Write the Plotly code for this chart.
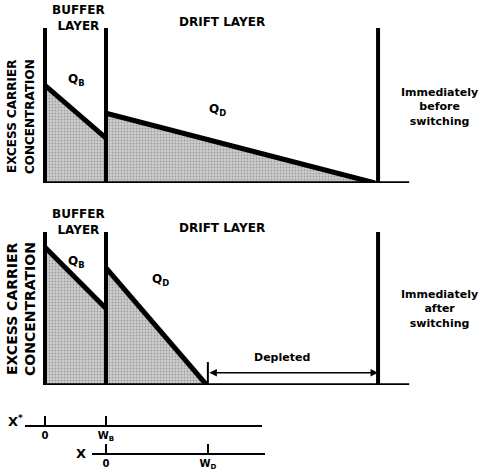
import plotly.graph_objects as go

# ---------------- data (x* in units of buffer width W_B) ----------------
W_B = 1.0
wall_pos = [0.0, 1.0, 5.46]          # left wall, buffer/drift boundary, right wall (x*)
wall_top = 1.0
depletion_edge = 2.67                # x* where drift carriers vanish after switching
W_D = depletion_edge - W_B

# before switching
before_buffer_x = [0.0, 1.0]
before_buffer_y = [0.63, 0.29]
before_drift_x = [1.0, 5.41]
before_drift_y = [0.45, 0.0]
# after switching
after_buffer_x = [0.0, 1.0]
after_buffer_y = [0.90, 0.50]
after_drift_x = [1.0, 2.65]
after_drift_y = [0.765, 0.0]

baseline_end = 5.97

xstar_ticks = [0.0, W_B]
xstar_labels = ["0", "W<sub>B</sub>"]
x_ticks = [0.0, W_D]
x_labels = ["0", "W<sub>D</sub>"]

# ---------------- layout helpers ----------------
W, H = 479, 475
PXU = 61.0      # pixels per unit
X0PX = 45.0     # pixel of x*=0

def px(x):
    return x / W

def py(y):
    return 1 - y / H

FONT = "DejaVu Sans"
BLACK = "black"

fig = go.Figure()

def add_panel(yax, bx, by, dx, dy):
    fillpat = dict(shape=".", fgcolor="#6e6e6e", bgcolor="#cdcdcd", size=3, solidity=0.3)
    for xs, ys in ((bx, by), (dx, dy)):
        fig.add_trace(go.Scatter(x=xs, y=ys, mode="lines", fill="tozeroy",
                                 fillcolor="#c4c4c4", fillpattern=fillpat,
                                 line=dict(color=BLACK, width=5), yaxis=yax,
                                 hoverinfo="skip", showlegend=False))
    # walls
    for xp in wall_pos:
        fig.add_trace(go.Scatter(x=[xp, xp], y=[0, wall_top], mode="lines",
                                 line=dict(color=BLACK, width=4), yaxis=yax,
                                 hoverinfo="skip", showlegend=False))
    # baseline
    fig.add_trace(go.Scatter(x=[-0.03, baseline_end], y=[0, 0], mode="lines",
                             line=dict(color=BLACK, width=3.5), yaxis=yax,
                             hoverinfo="skip", showlegend=False))

add_panel("y", before_buffer_x, before_buffer_y, before_drift_x, before_drift_y)
add_panel("y2", after_buffer_x, after_buffer_y, after_drift_x, after_drift_y)

# depletion edge tick
fig.add_trace(go.Scatter(x=[depletion_edge, depletion_edge], y=[0, 0.15], mode="lines",
                         line=dict(color=BLACK, width=2), yaxis="y2",
                         hoverinfo="skip", showlegend=False))

# scale axis carriers (invisible)
fig.add_trace(go.Scatter(x=xstar_ticks, y=[0, 0], xaxis="x2", yaxis="y3", mode="markers",
                         marker=dict(opacity=0), hoverinfo="skip", showlegend=False))
fig.add_trace(go.Scatter(x=x_ticks, y=[0, 0], xaxis="x3", yaxis="y4", mode="markers",
                         marker=dict(opacity=0), hoverinfo="skip", showlegend=False))

hidden = dict(visible=False, showgrid=False, zeroline=False, fixedrange=True)

xrange_main = [-X0PX / PXU, (W - X0PX) / PXU]

top_dom = [py(183), py(28)]
bot_dom = [py(385), py(232)]

l1, r1 = 25, 262
l2, r2 = 92, 265
fig.update_layout(
    width=W, height=H, margin=dict(l=0, r=0, t=0, b=0),
    paper_bgcolor="white", plot_bgcolor="white",
    xaxis=dict(domain=[0, 1], range=xrange_main, **hidden),
    yaxis=dict(domain=top_dom, range=[0, 1], **hidden),
    yaxis2=dict(domain=bot_dom, range=[0, 1], anchor="x", **hidden),
    yaxis3=dict(domain=[py(425), py(415)], range=[0, 1], anchor="x2", **hidden),
    yaxis4=dict(domain=[py(453), py(443)], range=[0, 1], anchor="x3", **hidden),
    xaxis2=dict(domain=[px(l1), px(r1)], anchor="y3",
                range=[(l1 - X0PX) / PXU, (r1 - X0PX) / PXU],
                showline=True, linecolor=BLACK, linewidth=2,
                ticks="inside", ticklen=9, tickwidth=2, tickcolor=BLACK,
                tickvals=xstar_ticks, ticktext=["<b>%s</b>" % t for t in xstar_labels],
                tickfont=dict(family=FONT, size=10, color=BLACK),
                showgrid=False, zeroline=False, fixedrange=True),
    xaxis3=dict(domain=[px(l2), px(r2)], anchor="y4",
                range=[(l2 - 106) / PXU, (r2 - 106) / PXU],
                showline=True, linecolor=BLACK, linewidth=2,
                ticks="inside", ticklen=9, tickwidth=2, tickcolor=BLACK,
                tickvals=x_ticks, ticktext=["<b>%s</b>" % t for t in x_labels],
                tickfont=dict(family=FONT, size=10, color=BLACK),
                showgrid=False, zeroline=False, fixedrange=True),
)

def ann(text, x, y, size=12, angle=0, **kw):
    fig.add_annotation(text="<b>%s</b>" % text, x=px(x), y=py(y), xref="paper", yref="paper",
                       xanchor="center", yanchor="middle",
                       showarrow=False, textangle=angle,
                       font=dict(family=FONT, size=size, color=BLACK), **kw)

# top panel texts
ann("BUFFER<br>LAYER", 78, 18, size=12)
ann("DRIFT LAYER", 222, 22, size=12)
ann("Q<sub>B</sub>", 76, 80, size=12)
ann("Q<sub>D</sub>", 217, 110, size=12)
ann("Immediately<br>before<br>switching", 439, 107, size=11)
ann("EXCESS CARRIER", 12, 117, size=12, angle=-90)
ann("CONCENTRATION", 30, 117, size=12, angle=-90)

# bottom panel texts
ann("BUFFER<br>LAYER", 78, 222, size=12)
ann("DRIFT LAYER", 222, 228, size=12)
ann("Q<sub>B</sub>", 76, 262, size=12)
ann("Q<sub>D</sub>", 160, 280, size=12)
ann("Immediately<br>after<br>switching", 439, 309, size=11)
ann("EXCESS CARRIER", 12, 309, size=14, angle=-90)
ann("CONCENTRATION", 30, 309, size=14, angle=-90)
ann("Depleted", 282, 357, size=11)

# depletion arrow
fig.add_annotation(x=wall_pos[2], y=0.08, ax=depletion_edge, ay=0.08,
                   xref="x", yref="y2", axref="x", ayref="y2",
                   showarrow=True, arrowside="end+start", arrowhead=2, arrowsize=1,
                   arrowwidth=1.5, arrowcolor=BLACK, text="")

# scale axis names
ann("X<sup>*</sup>", 15, 421, size=13)
ann("X", 81, 453, size=13)

fig.write_html("out.html", config={"displayModeBar": False},
               post_script="document.body.style.margin='0';")
